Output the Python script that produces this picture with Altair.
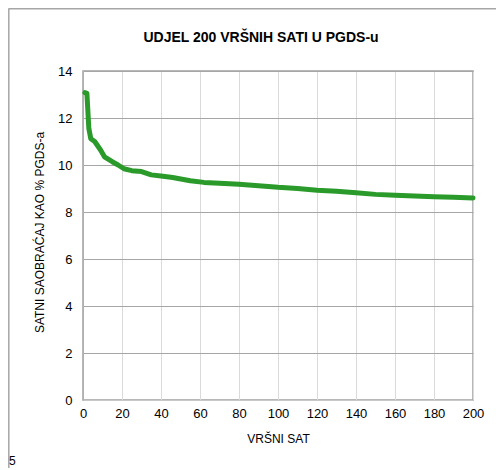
import altair as alt
import pandas as pd

hours = [1, 2, 3, 4, 6, 9, 11, 15, 18, 21, 25, 30, 35, 40, 46, 55, 62, 70, 80, 90,
         100, 110, 120, 130, 140, 150, 160, 170, 180, 190, 200]
share = [13.08, 13.05, 11.55, 11.12, 11.0, 10.64, 10.35, 10.14, 10.0, 9.84, 9.76, 9.72,
         9.58, 9.53, 9.47, 9.33, 9.26, 9.22, 9.18, 9.12, 9.05, 9.0, 8.93, 8.88, 8.82,
         8.75, 8.71, 8.68, 8.65, 8.63, 8.6]
x_ticks = list(range(0, 201, 20))
y_ticks = list(range(0, 15, 2))
title_text = "UDJEL 200 VRŠNIH SATI U PGDS-u"

df = pd.DataFrame({"sat": hours, "udio": share})
one = pd.DataFrame({"k": [0]})

W, H = 390, 329
PL, PT = 75, 63
SW, SH = 488, 460

line = alt.Chart(df).mark_line(color="#2a9a2a", strokeWidth=5, strokeCap="round", strokeJoin="round").encode(
    x=alt.X("sat:Q", scale=alt.Scale(domain=[0, 200], nice=False),
            axis=alt.Axis(values=x_ticks, title="VRŠNI SAT", grid=True, gridColor="#dadada",
                          ticks=False, labelPadding=7, titlePadding=13, domainColor="#c8c8c8",
                          labelFlush=False, labelFontSize=13, titleFontSize=12,
                          titleFontWeight="normal", labelColor="#000", titleColor="#000")),
    y=alt.Y("udio:Q", scale=alt.Scale(domain=[0, 14], nice=False),
            axis=alt.Axis(values=y_ticks, title="SATNI SAOBRAĆAJ KAO % PGDS-a", grid=True,
                          gridColor="#a6a6a6", ticks=False, labelPadding=11, titlePadding=11,
                          domainColor="#b0b0b0", labelFlush=False, labelFontSize=13,
                          titleFontSize=12, titleFontWeight="normal", titleY=161,
                          labelColor="#000", titleColor="#000")),
)

frame_top = alt.Chart(one).mark_rule(color="#a6a6a6", strokeWidth=1.5).encode(
    x=alt.value(-PL + 0.5), x2=alt.value(SW - PL), y=alt.value(-PT + 0.8))
frame_left = alt.Chart(one).mark_rule(color="#a6a6a6", strokeWidth=1.5).encode(
    x=alt.value(-PL + 0.8), y=alt.value(-PT + 0.5), y2=alt.value(SH - PT))
stray = alt.Chart(one).mark_text(text="5", align="left", baseline="middle", fontSize=12,
                                 font="Liberation Sans", color="#000").encode(
    x=alt.value(-PL + 1), y=alt.value(453 - PT))
title = alt.Chart(one).mark_text(text=title_text, align="center", baseline="middle", fontSize=14,
                                 fontWeight="bold", font="Liberation Sans", color="#000").encode(
    x=alt.value(261 - 8 - PL), y=alt.value(38 - 8 - PT))

chart = alt.layer(frame_top, frame_left, line, stray, title).properties(
    width=W, height=H,
    autosize=alt.AutoSizeParams(type="none"),
    padding={"left": PL, "top": PT, "right": SW - PL - W, "bottom": SH - PT - H},
).configure(font="Liberation Sans", background="white").configure_view(
    stroke="#a0a0a0", strokeWidth=1.5
).configure_axis(labelFont="Liberation Sans", titleFont="Liberation Sans")

chart.save("out.html", embed_options={"renderer": "svg", "actions": False})
